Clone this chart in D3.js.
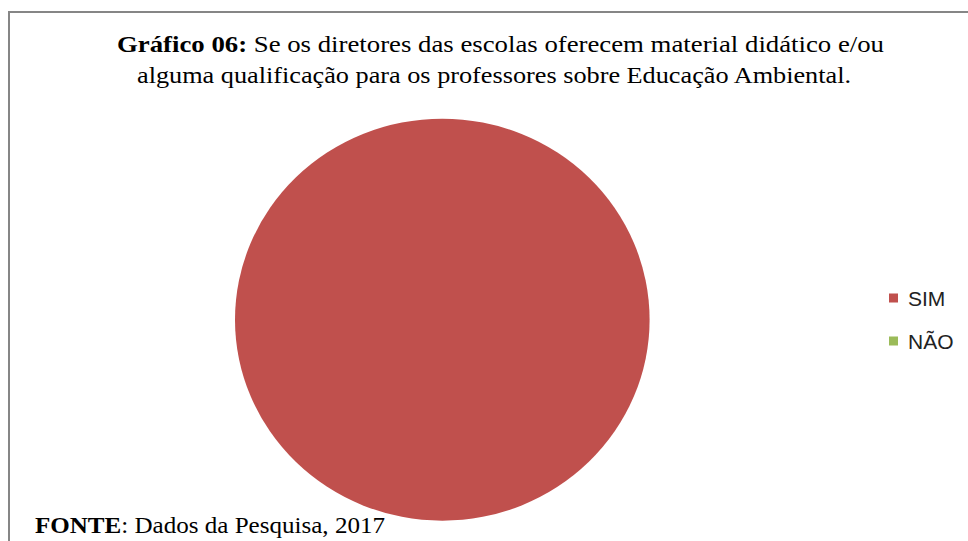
<!DOCTYPE html>
<html>
<head>
<meta charset="utf-8">
<script src="https://cdn.jsdelivr.net/npm/d3@7"></script>
<style>
  body { margin: 0; background: #fff; }
  svg { display: block; }
</style>
</head>
<body>
<svg id="chart" width="968" height="541"></svg>
<script>
const categories = ["SIM", "NÃO"]
const values = [100, 0]
const colors = ["#C0504D", "#9BBB59"]
const titleBold = "Gráfico 06:"
const titleLine1 = " Se os diretores das escolas oferecem material didático e/ou"
const titleLine2 = "alguma qualificação para os professores sobre Educação Ambiental."

const serif = "Liberation Serif, Times New Roman, serif"

const drawChart = () => {
    let svg = d3.select("#chart"),
        width = +svg.attr("width"),
        height = +svg.attr("height");

    // frame (only top and left visible)
    svg.append("path")
        .attr("d", `M9,${height} V12 H${width}`)
        .style("fill", "none")
        .style("stroke", "#868686")
        .style("stroke-width", 2)

    // title
    let t1 = svg.append("text")
        .attr("x", 117)
        .attr("y", 52)
        .attr("textLength", 767)
        .attr("lengthAdjust", "spacingAndGlyphs")
        .attr("font-family", serif)
        .attr("font-size", 24)
        .attr("fill", "#000")
    t1.append("tspan").attr("font-weight", "bold").text(titleBold)
    t1.append("tspan").text(titleLine1)

    svg.append("text")
        .attr("x", 137)
        .attr("y", 83)
        .attr("textLength", 714)
        .attr("lengthAdjust", "spacingAndGlyphs")
        .attr("font-family", serif)
        .attr("font-size", 24)
        .attr("fill", "#000")
        .text(titleLine2)

    // pie
    let cx = 442.3, cy = 319.7, rx = 207.3, ry = 201
    let pie = d3.pie().sort(null).value(d => d)
    let arc = d3.arc().innerRadius(0).outerRadius(ry)

    svg.append("g")
        .attr("transform", `translate(${cx},${cy}) scale(${rx / ry},1)`)
        .selectAll("path")
        .data(pie(values))
        .enter()
        .append("path")
        .attr("d", arc)
        .style("fill", (d, i) => colors[i])

    // legend
    let legend = svg.append("g")
        .selectAll("g")
        .data(categories)
        .enter()
        .append("g")
        .attr("transform", (d, i) => `translate(889,${298 + i * 43})`)

    legend.append("rect")
        .attr("x", 0)
        .attr("y", -4.5)
        .attr("width", 9)
        .attr("height", 9)
        .style("fill", (d, i) => colors[i])

    legend.append("text")
        .attr("x", 19)
        .attr("y", 7.5)
        .attr("font-family", "Liberation Sans, Arial, sans-serif")
        .attr("font-size", 21)
        .attr("fill", "#222")
        .text(d => d)

    // source
    let src = svg.append("text")
        .attr("x", 35)
        .attr("y", 533)
        .attr("textLength", 350)
        .attr("lengthAdjust", "spacingAndGlyphs")
        .attr("font-family", serif)
        .attr("font-size", 24)
        .attr("fill", "#000")
    src.append("tspan").attr("font-weight", "bold").text("FONTE")
    src.append("tspan").text(": Dados da Pesquisa, 2017")

    return svg
}

drawChart()
</script>
</body>
</html>
